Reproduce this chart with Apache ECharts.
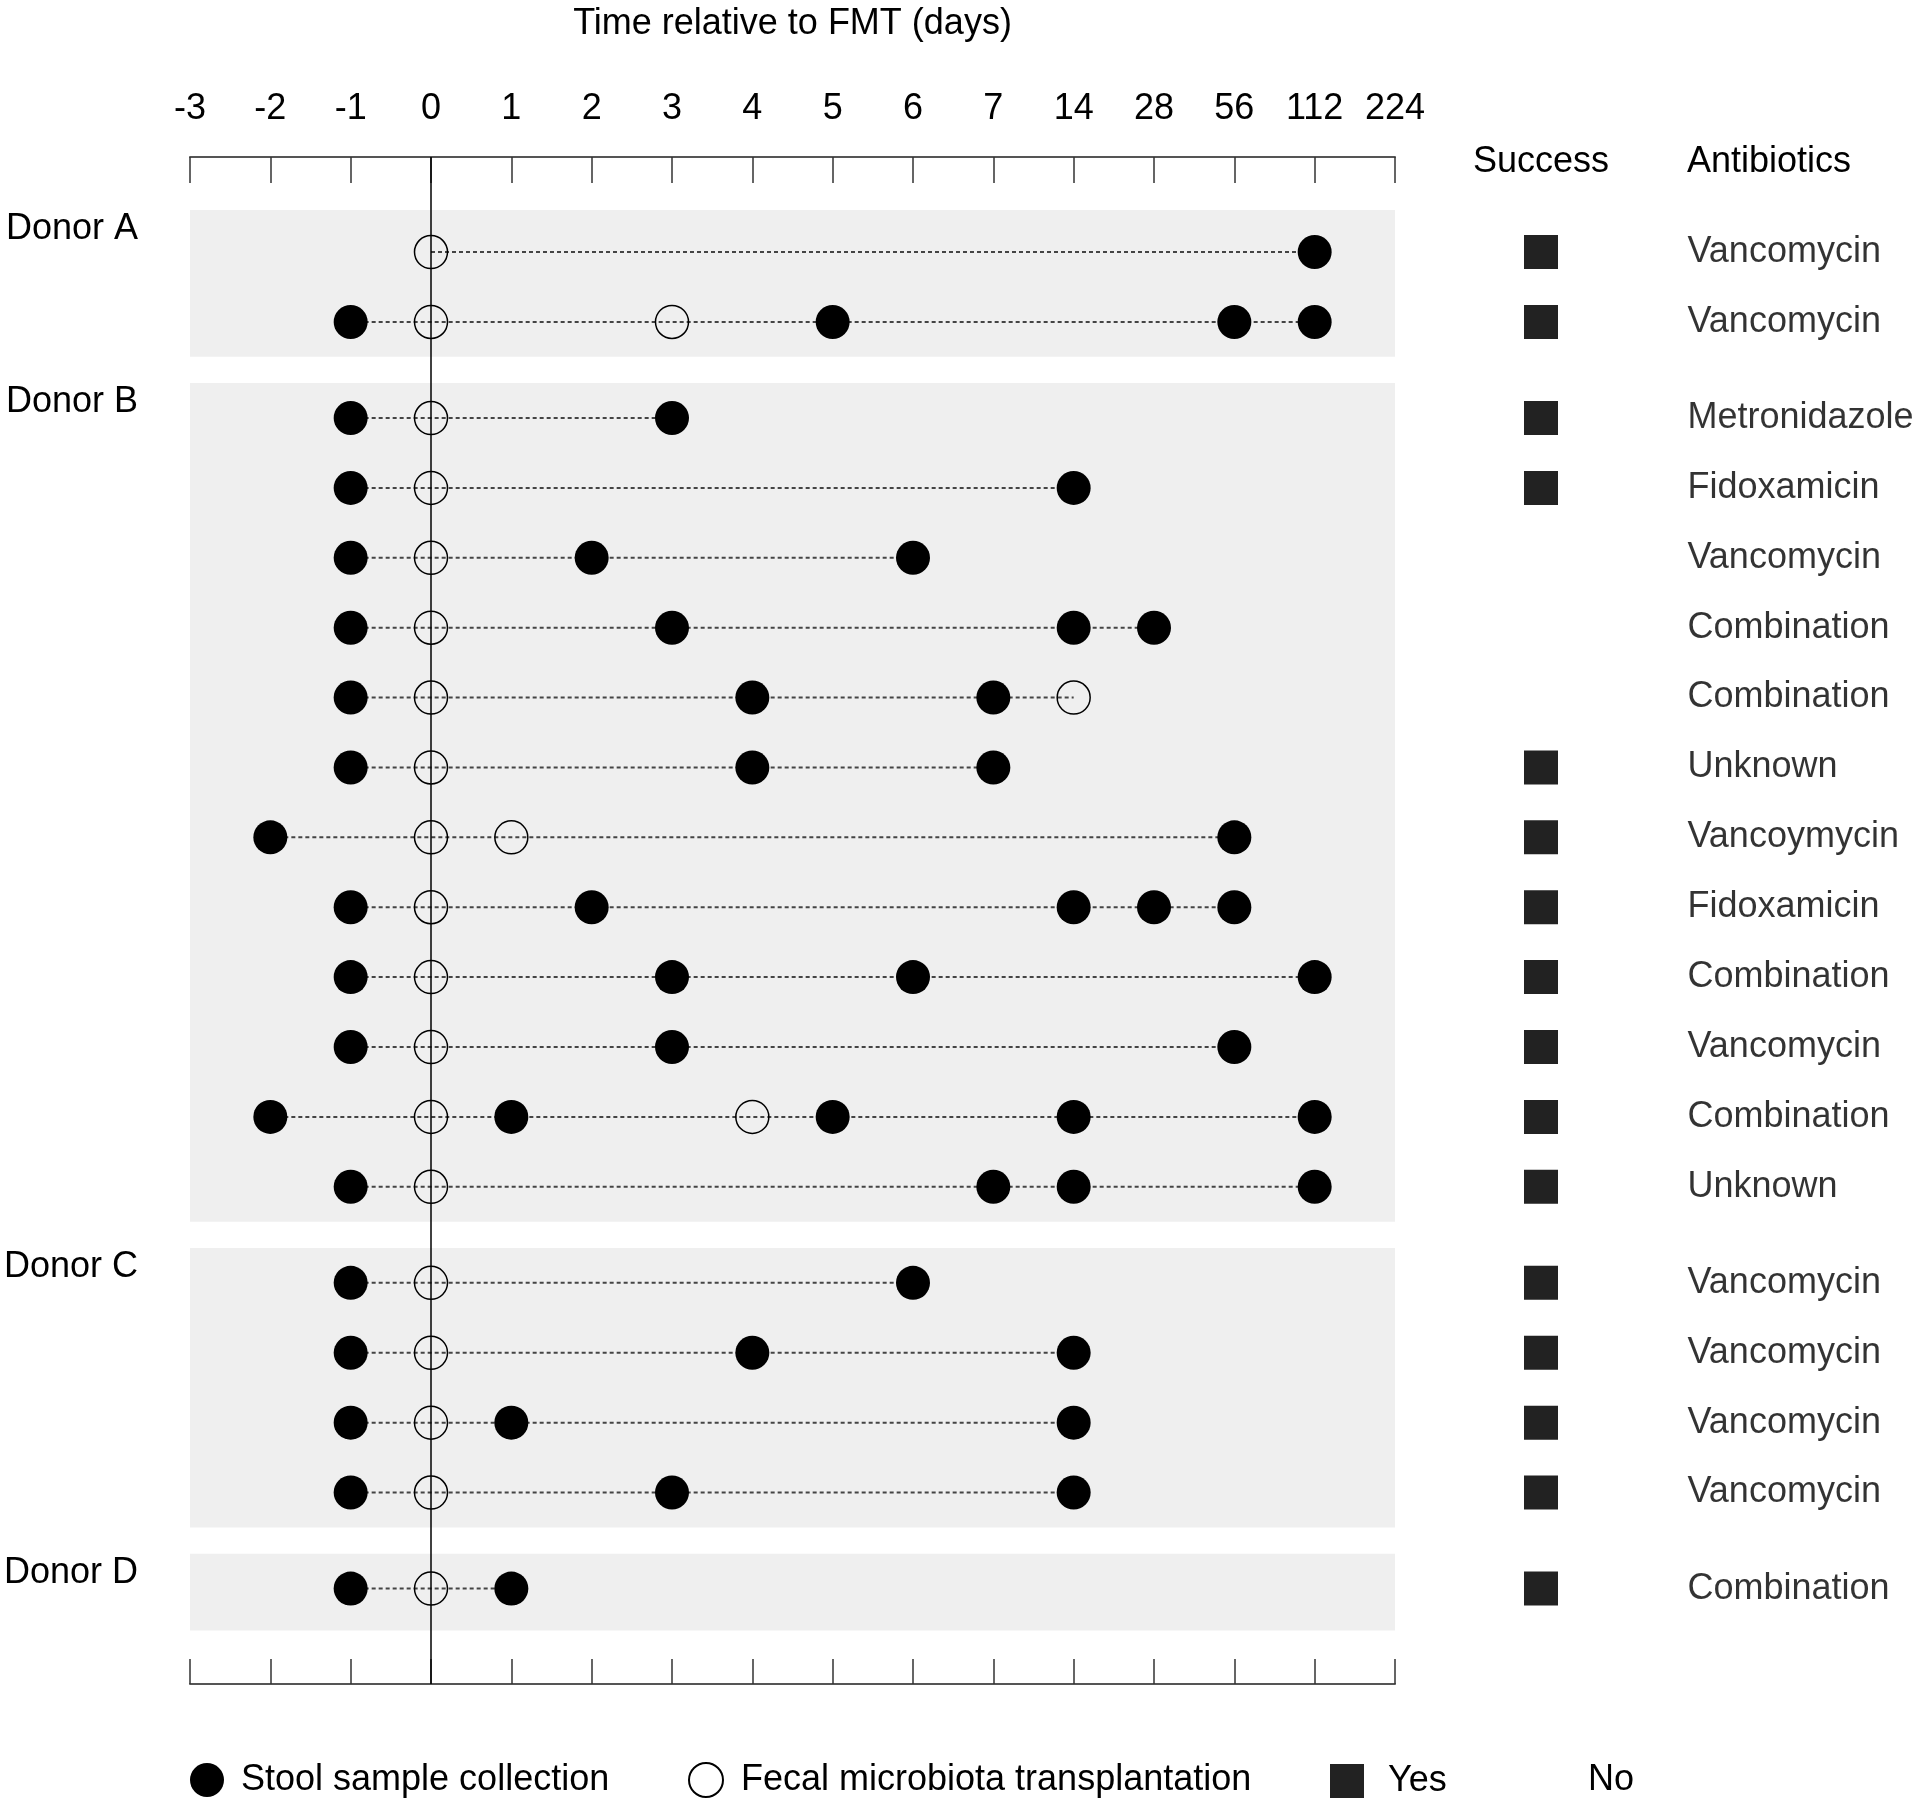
<!DOCTYPE html>
<html>
<head>
<meta charset="utf-8">
<script src="https://cdn.jsdelivr.net/npm/echarts@6/dist/echarts.min.js"></script>
<style>
  html, body { margin: 0; padding: 0; background: #fff; }
  #chart { width: 1920px; height: 1807px; }
</style>
</head>
<body>
<div id="chart"></div>
<script>
// ---- data ----
const dayLabels = ['-3','-2','-1','0','1','2','3','4','5','6','7','14','28','56','112','224'];
const donors = ['Donor A','Donor B','Donor C','Donor D'];
const rowDonor = [0,0, 1,1,1,1,1,1,1,1,1,1,1,1, 2,2,2,2, 3];
const stoolDays = [
  [112], [-1,5,56,112],
  [-1,3], [-1,14], [-1,2,6], [-1,3,14,28], [-1,4,7], [-1,4,7], [-2,56], [-1,2,14,28,56],
  [-1,3,6,112], [-1,3,56], [-2,1,5,14,112], [-1,7,14,112],
  [-1,6], [-1,4,14], [-1,1,14], [-1,3,14],
  [-1,1]
];
const fmtDays = [
  [0], [0,3],
  [0], [0], [0], [0], [0,14], [0], [0,1], [0],
  [0], [0], [0,4], [0],
  [0], [0], [0], [0],
  [0]
];
const success = ['Yes','Yes', 'Yes','Yes','No','No','No','Yes','Yes','Yes','Yes','Yes','Yes','Yes', 'Yes','Yes','Yes','Yes', 'Yes'];
const antibiotics = ['Vancomycin','Vancomycin',
  'Metronidazole','Fidoxamicin','Vancomycin','Combination','Combination','Unknown','Vancoymycin','Fidoxamicin','Combination','Vancomycin','Combination','Unknown',
  'Vancomycin','Vancomycin','Vancomycin','Vancomycin',
  'Combination'];

// ---- layout helpers ----
const GROUP_GAP = 0.375;
const FONT = "'Liberation Sans', Arial, Helvetica, sans-serif";
const FS = 36;
const rowY = rowDonor.map((g, i) => i + g * GROUP_GAP);
const catIdx = d => dayLabels.indexOf(String(d));

const stoolData = [], fmtData = [];
stoolDays.forEach((arr, i) => arr.forEach(d => stoolData.push([String(d), rowY[i]])));
fmtDays.forEach((arr, i) => arr.forEach(d => fmtData.push([String(d), rowY[i]])));

// dotted connector lines, one per row
const lineSeries = rowY.map((y, i) => {
  const pts = stoolDays[i].concat(fmtDays[i]).map(String)
    .sort((a, b) => catIdx(a) - catIdx(b)).map(d => [d, y]);
  return {
    type: 'line', xAxisIndex: 0, yAxisIndex: 0, data: pts, symbol: 'none', z: 2,
    lineStyle: { color: '#444', width: 2, type: [4, 3] }, silent: true, animation: false
  };
});

// donor bands
const bands = donors.map((name, g) => {
  const ys = rowY.filter((y, i) => rowDonor[i] === g);
  const padTop = g === 0 ? 0.6 : 0.5;
  const padBot = g === donors.length - 1 ? 0.6 : 0.5;
  return [
    { yAxis: Math.min(...ys) - padTop, name: name },
    { yAxis: Math.max(...ys) + padBot }
  ];
});

const yesData = [], noData = [], abData = [];
rowY.forEach((y, i) => {
  (success[i] === 'Yes' ? yesData : noData).push([0, y]);
  abData.push({ value: [1, y], name: antibiotics[i] });
});

const yMin = -1.36, yMax = 20.49;
const txt = { color: '#000', fontFamily: FONT, fontSize: FS };

const chart = echarts.init(document.getElementById('chart'), null, { renderer: 'canvas' });
chart.setOption({
  animation: false,
  backgroundColor: '#fff',
  textStyle: { fontFamily: FONT },
  grid: [
    { left: 190, right: 525, top: 157, bottom: 123 },
    { left: 1541, width: 146, top: 157, bottom: 123 }
  ],
  xAxis: [
    {
      gridIndex: 0, type: 'category', data: dayLabels, position: 'top', boundaryGap: false,
      name: 'Time relative to FMT (days)', nameLocation: 'middle', nameGap: 115,
      nameTextStyle: txt,
      axisLine: { onZero: false, lineStyle: { color: '#555', width: 2 } },
      axisTick: { inside: true, length: 26, interval: 0, lineStyle: { color: '#333', width: 1.5 } },
      axisLabel: Object.assign({ margin: 30, interval: 0 }, txt),
      splitLine: { show: false }
    },
    {
      gridIndex: 0, type: 'category', data: dayLabels, position: 'bottom', boundaryGap: false,
      axisLine: { onZero: false, lineStyle: { color: '#555', width: 2 } },
      axisTick: { inside: true, length: 25, interval: 0, lineStyle: { color: '#333', width: 1.5 } },
      axisLabel: { show: false }, splitLine: { show: false }
    },
    { gridIndex: 1, type: 'value', min: 0, max: 1, show: false }
  ],
  yAxis: [
    { gridIndex: 0, type: 'value', inverse: true, min: yMin, max: yMax, show: false },
    { gridIndex: 1, type: 'value', inverse: true, min: yMin, max: yMax, show: false }
  ],
  graphic: [
    { type: 'text', x: 1541, y: 162, style: { text: 'Success', align: 'center', verticalAlign: 'middle', fill: '#000', font: FS + 'px ' + FONT } },
    { type: 'text', x: 1687, y: 162, style: { text: 'Antibiotics', align: 'left', verticalAlign: 'middle', fill: '#000', font: FS + 'px ' + FONT } }
  ],
  legend: [
    { left: 190, top: 1762, padding: 0, itemWidth: 34, itemHeight: 34, itemGap: 0, data: ['Stool sample collection'],
      textStyle: Object.assign({ padding: [0, 0, 0, 12] }, txt) },
    { left: 688, top: 1762, padding: 0, itemWidth: 34, itemHeight: 34, itemGap: 0, data: ['Fecal microbiota transplantation'],
      textStyle: Object.assign({ padding: [0, 0, 0, 13] }, txt) },
    { left: 1330, top: 1763, padding: 0, itemWidth: 34, itemHeight: 34, itemGap: 0, data: ['Yes'],
      textStyle: Object.assign({ padding: [0, 0, 0, 19] }, txt) },
    { left: 1530, top: 1762, padding: 0, itemWidth: 34, itemHeight: 34, itemGap: 0, data: ['No'],
      textStyle: Object.assign({ padding: [0, 0, 0, 19] }, txt) }
  ],
  series: [
    {
      name: 'bands', type: 'line', xAxisIndex: 0, yAxisIndex: 0, data: [], z: 0, silent: true,
      markArea: {
        silent: true,
        itemStyle: { color: '#efefef' },
        label: {
          show: true, position: [-52, 19], align: 'right', verticalAlign: 'middle',
          color: '#000', fontFamily: FONT, fontSize: FS
        },
        data: bands
      },
      markLine: {
        silent: true, symbol: 'none', label: { show: false },
        lineStyle: { color: '#000', width: 1.5, type: 'solid' },
        data: [{ xAxis: '0' }]
      }
    },
    ...lineSeries,
    {
      name: 'Stool sample collection', type: 'scatter', xAxisIndex: 0, yAxisIndex: 0, z: 4,
      symbol: 'circle', symbolSize: 34, itemStyle: { color: '#000', opacity: 1 }, data: stoolData
    },
    {
      name: 'Fecal microbiota transplantation', type: 'scatter', xAxisIndex: 0, yAxisIndex: 0, z: 4,
      symbol: 'circle', symbolSize: 33,
      itemStyle: { color: 'rgba(0,0,0,0)', borderColor: '#000', borderWidth: 1.5, opacity: 1 }, data: fmtData
    },
    {
      name: 'Yes', type: 'scatter', xAxisIndex: 2, yAxisIndex: 1, symbol: 'rect', symbolSize: 34,
      itemStyle: { color: '#222', opacity: 1 }, data: yesData
    },
    {
      name: 'No', type: 'scatter', xAxisIndex: 2, yAxisIndex: 1, symbol: 'rect', symbolSize: 34,
      itemStyle: { color: '#fff', opacity: 1 }, data: noData
    },
    {
      name: 'Antibiotics', type: 'scatter', xAxisIndex: 2, yAxisIndex: 1, symbolSize: 1,
      itemStyle: { color: 'rgba(0,0,0,0)' },
      label: { show: true, position: 'right', distance: 0, formatter: p => p.name, color: '#000', fontFamily: FONT, fontSize: FS },
      data: abData
    }
  ]
});
</script>
</body>
</html>
